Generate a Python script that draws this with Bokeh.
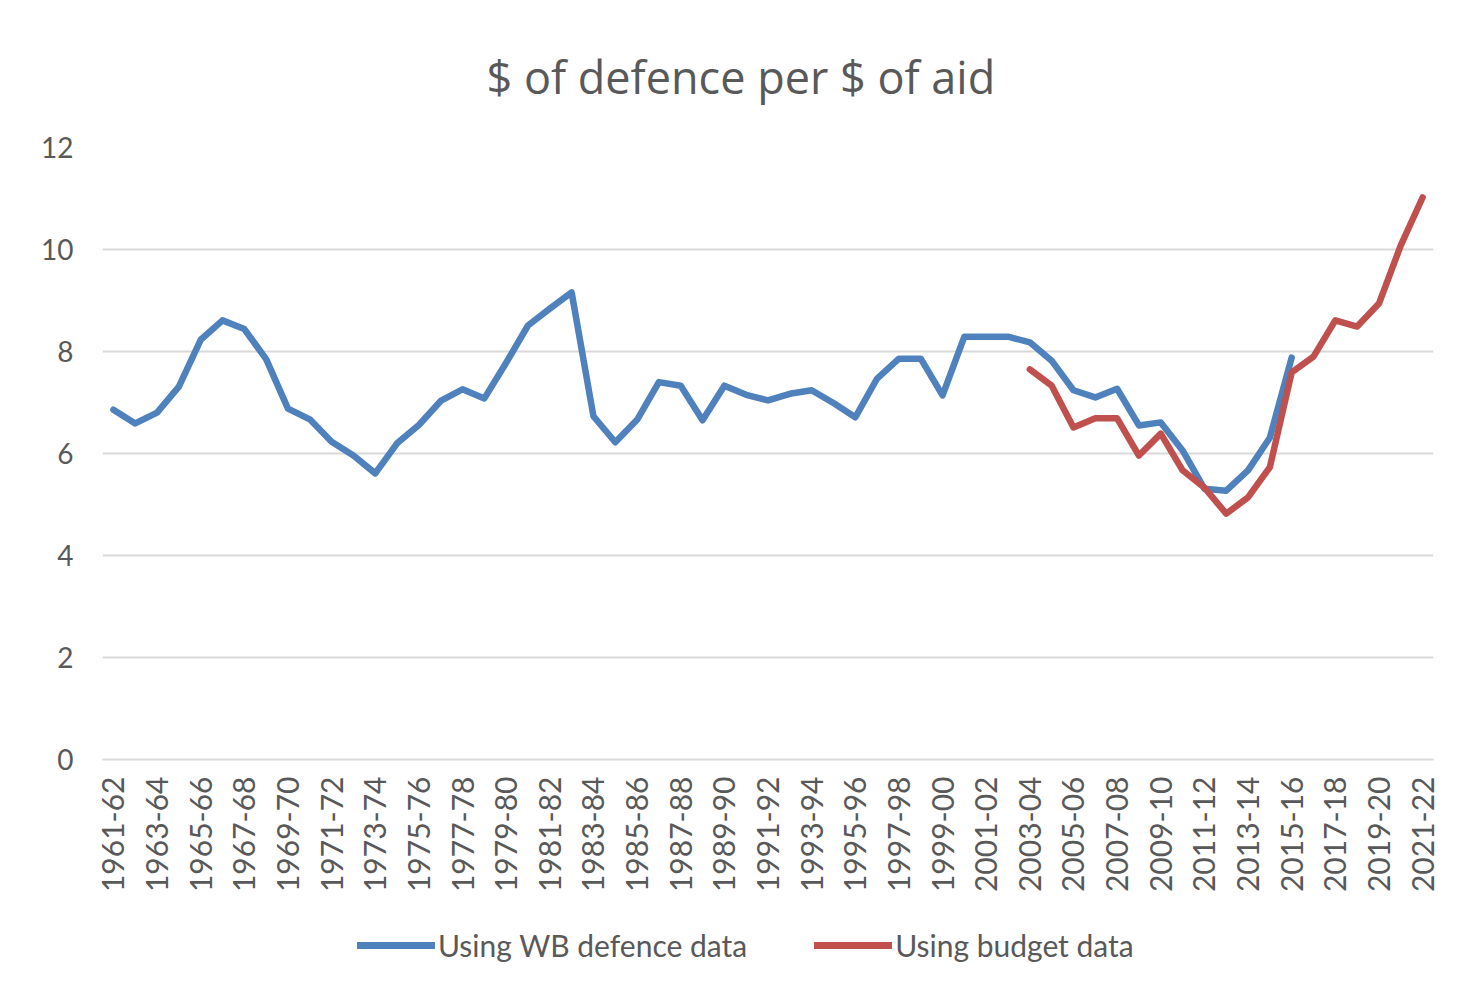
from bokeh.plotting import figure
from bokeh.layouts import column
from bokeh.models import Range1d, FixedTicker, Legend, LegendItem
from bokeh.embed import file_html
from bokeh.resources import INLINE

categories = [
    "1961-62", "1962-63", "1963-64", "1964-65", "1965-66", "1966-67", "1967-68", "1968-69",
    "1969-70", "1970-71", "1971-72", "1972-73", "1973-74", "1974-75", "1975-76", "1976-77",
    "1977-78", "1978-79", "1979-80", "1980-81", "1981-82", "1982-83", "1983-84", "1984-85",
    "1985-86", "1986-87", "1987-88", "1988-89", "1989-90", "1990-91", "1991-92", "1992-93",
    "1993-94", "1994-95", "1995-96", "1996-97", "1997-98", "1998-99", "1999-00", "2000-01",
    "2001-02", "2002-03", "2003-04", "2004-05", "2005-06", "2006-07", "2007-08", "2008-09",
    "2009-10", "2010-11", "2011-12", "2012-13", "2013-14", "2014-15", "2015-16", "2016-17",
    "2017-18", "2018-19", "2019-20", "2020-21", "2021-22",
]

# Using WB defence data: from 1961-62 to 2015-16
wb_first = "1961-62"
wb_values = [
    6.86, 6.59, 6.80, 7.31, 8.23, 8.61, 8.44, 7.85, 6.88, 6.67,
    6.23, 5.96, 5.61, 6.20, 6.56, 7.03, 7.26, 7.08, 7.78, 8.51,
    8.84, 9.16, 6.73, 6.22, 6.66, 7.40, 7.33, 6.65, 7.33, 7.15,
    7.04, 7.17, 7.24, 6.99, 6.71, 7.47, 7.86, 7.86, 7.14, 8.29,
    8.29, 8.29, 8.18, 7.82, 7.24, 7.10, 7.27, 6.55, 6.61, 6.06,
    5.31, 5.27, 5.67, 6.31, 7.88,
]

# Using budget data: from 2003-04 to 2021-22
budget_first = "2003-04"
budget_values = [
    7.65, 7.33, 6.51, 6.69, 6.69, 5.96, 6.39, 5.67, 5.33, 4.82,
    5.14, 5.73, 7.59, 7.90, 8.61, 8.49, 8.94, 10.08, 11.02,
]

y_ticks = [0, 2, 4, 6, 8, 10, 12]
title_text = "$ of defence per $ of aid"
wb_label = "Using WB defence data"
budget_label = "Using budget data"

BLUE = "#4F81BD"
RED = "#C0504D"
GREY_TEXT = "#595959"
GRID = "#d9d9d9"

wb_start = categories.index(wb_first)
wb_x = list(range(wb_start, wb_start + len(wb_values)))
bud_start = categories.index(budget_first)
bud_x = list(range(bud_start, bud_start + len(budget_values)))

# ---------------- main chart ----------------
p = figure(
    width=1444, height=899,
    output_backend="svg", toolbar_location=None,
    x_range=Range1d(-0.5, len(categories) - 0.5),
    y_range=Range1d(y_ticks[0], y_ticks[-1]),
    min_border_left=102, min_border_right=11, min_border_top=147, min_border_bottom=140,
    title=title_text,
)

p.outline_line_color = None
p.background_fill_color = "white"
p.border_fill_color = "white"

p.title.align = "left"
p.title.offset = 384
p.title.standoff = 82
p.title.text_font = "Open Sans"
p.title.text_font_size = "45px"
p.title.text_font_style = "normal"
p.title.text_color = GREY_TEXT

p.line(wb_x, wb_values, line_color=BLUE, line_width=6.5,
       line_cap="round", line_join="round")
p.line(bud_x, budget_values, line_color=RED, line_width=6.5,
       line_cap="round", line_join="round")

# y axis
p.yaxis.ticker = FixedTicker(ticks=y_ticks)
p.yaxis.axis_line_color = None
p.yaxis.major_tick_line_color = None
p.yaxis.minor_tick_line_color = None
p.yaxis.major_label_standoff = 23
p.yaxis.major_label_text_font = "Lato"
p.yaxis.major_label_text_font_size = "28px"
p.yaxis.major_label_text_color = GREY_TEXT

# x axis
xt = list(range(0, len(categories), 2))
p.xaxis.ticker = FixedTicker(ticks=xt)
p.xaxis.major_label_overrides = {i: categories[i] for i in xt}
p.xaxis.major_label_orientation = 3.14159265 / 2
p.xaxis.axis_line_color = GRID
p.xaxis.axis_line_width = 2
p.xaxis.major_tick_line_color = None
p.xaxis.minor_tick_line_color = None
p.xaxis.major_label_standoff = 11
p.xaxis.major_label_text_font = "Lato"
p.xaxis.major_label_text_font_size = "30px"
p.xaxis.major_label_text_color = GREY_TEXT

p.xgrid.grid_line_color = None
p.ygrid.grid_line_color = GRID
p.ygrid.grid_line_width = 2

# ---------------- legend strip ----------------
# The series are re-plotted here only to supply legend swatches; the strip's
# y range (0..1) lies below every value, so the lines themselves stay hidden.
leg = figure(
    width=1444, height=94,
    output_backend="svg", toolbar_location=None,
    x_range=Range1d(0, 1), y_range=Range1d(0, 1),
    x_axis_location=None, y_axis_location=None,
    min_border=0,
)
leg.outline_line_color = None
leg.xgrid.grid_line_color = None
leg.ygrid.grid_line_color = None
leg.background_fill_color = "white"
leg.border_fill_color = "white"

s1 = leg.line(wb_x, wb_values, line_color=BLUE, line_width=7, line_cap="round")
s2 = leg.line(bud_x, budget_values, line_color=RED, line_width=7, line_cap="round")

legend = Legend(
    items=[LegendItem(label=wb_label, renderers=[s1]),
           LegendItem(label=budget_label, renderers=[s2])],
    orientation="horizontal",
    location=(255, 30),
    glyph_width=78, glyph_height=30,
    label_standoff=3, spacing=67,
    padding=0, margin=0,
    border_line_color=None, background_fill_alpha=0,
    label_text_font="Lato", label_text_font_size="30px",
    label_text_color=GREY_TEXT,
)
leg.add_layout(legend)

open("out.html", "w").write(file_html(column(p, leg, spacing=0), INLINE))
